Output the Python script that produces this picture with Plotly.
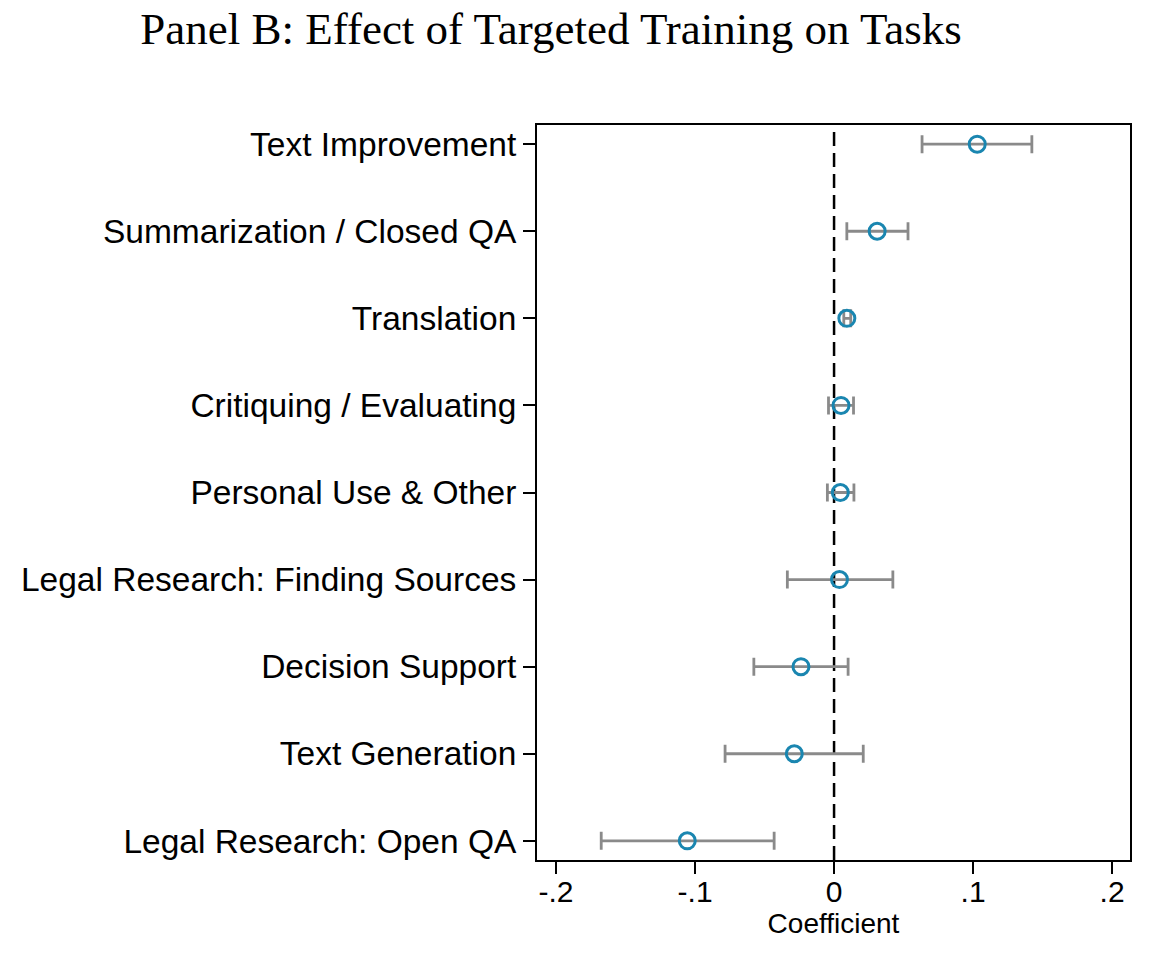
import plotly.graph_objects as go

categories = [
    "Text Improvement",
    "Summarization / Closed QA",
    "Translation",
    "Critiquing / Evaluating",
    "Personal Use & Other",
    "Legal Research: Finding Sources",
    "Decision Support",
    "Text Generation",
    "Legal Research: Open QA",
]
coef = [0.103, 0.031, 0.0092, 0.005, 0.0045, 0.0039, -0.0238, -0.0286, -0.1056]
ci_low = [0.0633, 0.0092, 0.0070, -0.0040, -0.0048, -0.0336, -0.0577, -0.0784, -0.1675]
ci_high = [0.1423, 0.0532, 0.0120, 0.0140, 0.0143, 0.0423, 0.0101, 0.0210, -0.0431]

x_tickvals = [-0.2, -0.1, 0, 0.1, 0.2]
x_ticktext = ["-.2", "-.1", "0", ".1", ".2"]

err_plus = [h - c for h, c in zip(ci_high, coef)]
err_minus = [c - l for c, l in zip(coef, ci_low)]

fig = go.Figure()
fig.add_trace(go.Scatter(
    x=coef, y=categories, mode="markers",
    marker=dict(symbol="circle-open", size=16, color="#1a86b0", line=dict(width=3, color="#1a86b0")),
    error_x=dict(type="data", symmetric=False, array=err_plus, arrayminus=err_minus,
                 color="#8a8a8a", thickness=2.8, width=9),
    showlegend=False,
))

fig.add_shape(type="line", xref="x", yref="paper", x0=0, x1=0, y0=0, y1=1,
              line=dict(color="black", width=2.5, dash="14px,7px"), layer="below")

fig.update_layout(
    width=1152, height=954,
    paper_bgcolor="white", plot_bgcolor="white",
    margin=dict(l=529, r=30, t=117, b=102, autoexpand=False),
    font=dict(family="Liberation Sans, Arial, sans-serif", size=28, color="black"),
    title=dict(text="Panel B: Effect of Targeted Training on Tasks",
               font=dict(family="Liberation Serif, serif", size=45, color="black"),
               x=0.4714, xanchor="center", y=0.9785, yanchor="middle"),
)
fig.update_xaxes(
    range=[-0.2137, 0.2129], tickvals=x_tickvals, ticktext=x_ticktext,
    showgrid=False, zeroline=False, showline=True, mirror=True, automargin=False,
    linecolor="black", linewidth=2, ticks="outside", ticklen=12, tickwidth=2, tickcolor="black",
    ticklabelstandoff=-8,
    title=dict(text="Coefficient", standoff=0, font=dict(size=28)),
    tickfont=dict(size=30),
)
fig.update_yaxes(
    categoryorder="array", categoryarray=categories[::-1], range=[-0.22, 8.22],
    showgrid=False, zeroline=False, showline=True, mirror=True, automargin=False,
    linecolor="black", linewidth=2, ticks="outside", ticklen=12, tickwidth=1.5, tickcolor="black",
    tickfont=dict(size=33.5),
)

fig.write_html("out.html")
